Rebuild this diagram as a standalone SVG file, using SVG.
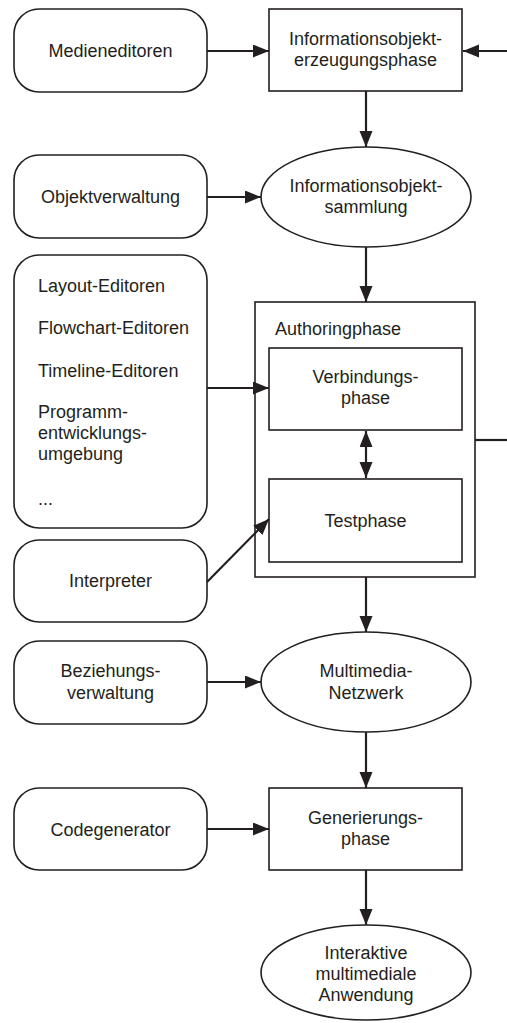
<svg xmlns="http://www.w3.org/2000/svg" width="507" height="1023" viewBox="0 0 507 1023">
<style>
.n{fill:#fff;stroke:#231f20;stroke-width:1.6}
.t{font-family:"Liberation Sans",Arial,sans-serif;font-size:18px;fill:#231f20}
.c{text-anchor:middle}
.e{fill:none;stroke:#231f20;stroke-width:2.2}
</style>
<defs>
<marker id="ah" markerUnits="userSpaceOnUse" markerWidth="17" markerHeight="14" refX="16" refY="6.5" orient="auto-start-reverse" viewBox="0 0 17 14">
<path d="M0,0 L16,6.5 L0,13 Z" fill="#231f20"/>
</marker>
</defs>
<rect width="507" height="1023" fill="#fff"/>

<g id="medieneditoren">
<rect class="n" x="14" y="9" width="193" height="83" rx="25"/>
<text class="t c" x="110.5" y="57">Medieneditoren</text>
</g>
<g id="informationsobjekterzeugungsphase">
<rect class="n" x="269" y="9" width="193" height="82"/>
<text class="t c" x="365.5" y="45">Informationsobjekt-</text>
<text class="t c" x="365.5" y="66">erzeugungsphase</text>
</g>
<g id="objektverwaltung">
<rect class="n" x="14" y="155" width="193" height="83" rx="25"/>
<text class="t c" x="110.5" y="203">Objektverwaltung</text>
</g>
<g id="informationsobjektsammlung">
<ellipse class="n" cx="366" cy="197" rx="105" ry="50"/>
<text class="t c" x="366" y="191.5">Informationsobjekt-</text>
<text class="t c" x="366" y="212.5">sammlung</text>
</g>
<g id="editoren">
<rect class="n" x="14" y="255" width="193" height="273" rx="25"/>
<text class="t" x="38" y="291.5">Layout-Editoren</text>
<text class="t" x="38" y="334">Flowchart-Editoren</text>
<text class="t" x="38" y="376.5">Timeline-Editoren</text>
<text class="t" x="38" y="418">Programm-</text>
<text class="t" x="38" y="439">entwicklungs-</text>
<text class="t" x="38" y="460">umgebung</text>
<text class="t" x="38" y="505">...</text>
</g>
<g id="authoringphase">
<rect class="n" x="255" y="302" width="220" height="275"/>
<text class="t" x="275" y="335">Authoringphase</text>
</g>
<g id="verbindungsphase">
<rect class="n" x="269" y="348" width="193" height="82"/>
<text class="t c" x="365.5" y="383">Verbindungs-</text>
<text class="t c" x="365.5" y="404">phase</text>
</g>
<g id="testphase">
<rect class="n" x="269" y="479" width="193" height="83"/>
<text class="t c" x="365.5" y="527">Testphase</text>
</g>
<g id="interpreter">
<rect class="n" x="14" y="540" width="193" height="82" rx="25"/>
<text class="t c" x="110.5" y="587">Interpreter</text>
</g>
<g id="beziehungsverwaltung">
<rect class="n" x="14" y="641" width="193" height="83" rx="25"/>
<text class="t c" x="110.5" y="677">Beziehungs-</text>
<text class="t c" x="110.5" y="698.5">verwaltung</text>
</g>
<g id="multimedianetzwerk">
<ellipse class="n" cx="366" cy="682" rx="105" ry="50"/>
<text class="t c" x="366" y="677">Multimedia-</text>
<text class="t c" x="366" y="698.5">Netzwerk</text>
</g>
<g id="codegenerator">
<rect class="n" x="14" y="788" width="193" height="82" rx="25"/>
<text class="t c" x="110.5" y="835.5">Codegenerator</text>
</g>
<g id="generierungsphase">
<rect class="n" x="269" y="788" width="193" height="82"/>
<text class="t c" x="365.5" y="824">Generierungs-</text>
<text class="t c" x="365.5" y="845">phase</text>
</g>
<g id="anwendung">
<ellipse class="n" cx="366" cy="972.5" rx="105" ry="47.5"/>
<text class="t c" x="366" y="959">Interaktive</text>
<text class="t c" x="366" y="980">multimediale</text>
<text class="t c" x="366" y="1001">Anwendung</text>
</g>

<g id="connectors">
<line class="e" x1="207" y1="51" x2="269" y2="51" marker-end="url(#ah)"/>
<line class="e" x1="507" y1="51" x2="463" y2="51" marker-end="url(#ah)"/>
<line class="e" x1="366" y1="91" x2="366" y2="147" marker-end="url(#ah)"/>
<line class="e" x1="207" y1="197" x2="261" y2="197" marker-end="url(#ah)"/>
<line class="e" x1="366" y1="247" x2="366" y2="302" marker-end="url(#ah)"/>
<line class="e" x1="207" y1="388" x2="269" y2="388" marker-end="url(#ah)"/>
<line class="e" x1="366" y1="431" x2="366" y2="478" marker-start="url(#ah)" marker-end="url(#ah)"/>
<line class="e" x1="475" y1="440" x2="507" y2="440"/>
<line class="e" x1="207" y1="582" x2="269" y2="519" marker-end="url(#ah)"/>
<line class="e" x1="366" y1="577" x2="366" y2="632" marker-end="url(#ah)"/>
<line class="e" x1="207" y1="682" x2="261" y2="682" marker-end="url(#ah)"/>
<line class="e" x1="366" y1="732" x2="366" y2="788" marker-end="url(#ah)"/>
<line class="e" x1="207" y1="829" x2="269" y2="829" marker-end="url(#ah)"/>
<line class="e" x1="366" y1="870" x2="366" y2="925" marker-end="url(#ah)"/>
</g>
</svg>
